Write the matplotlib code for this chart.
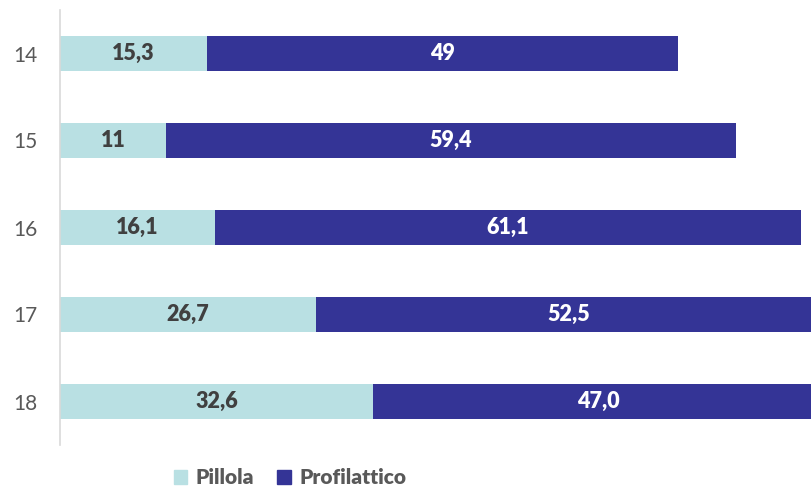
import numpy as np
import matplotlib.pyplot as plt
from matplotlib.patches import Patch

ages = ['14', '15', '16', '17', '18']
pillola = [15.3, 11, 16.1, 26.7, 32.6]
profilattico = [49, 59.4, 61.1, 52.5, 47.0]
pillola_txt = ['15,3', '11', '16,1', '26,7', '32,6']
profil_txt = ['49', '59,4', '61,1', '52,5', '47,0']

c_light = '#b9e0e3'
c_dark = '#343496'

plt.rcParams['font.family'] = ['Lato', 'DejaVu Sans']

fig = plt.figure(figsize=(8.11, 4.87), dpi=100)
ax = fig.add_axes([60 / 811, 1 - 445 / 487, 1 - 60 / 811, 435 / 487])

y = np.arange(len(ages))
h = 0.40
ax.barh(y, pillola, height=h, color=c_light, edgecolor='none')
ax.barh(y, profilattico, left=pillola, height=h, color=c_dark, edgecolor='none')

for i in range(len(ages)):
    ax.text(pillola[i] / 2, y[i], pillola_txt[i], ha='center', va='center',
            fontsize=15.5, fontweight='heavy', color='#404040')
    ax.text(pillola[i] + profilattico[i] / 2, y[i], profil_txt[i], ha='center',
            va='center', fontsize=15.5, fontweight='heavy', color='white')

ax.set_xlim(0, 78.2)
ax.set_ylim(4.5, -0.5)
ax.set_yticks(y)
ax.set_yticklabels(ages, fontsize=15, color='#595959')
ax.tick_params(axis='y', length=0, pad=16)
ax.set_xticks([])
for s in ['top', 'right', 'bottom']:
    ax.spines[s].set_visible(False)
ax.spines['left'].set_color('#d9d9d9')
ax.spines['left'].set_linewidth(1.2)

handles = [Patch(color=c_light, label='Pillola'), Patch(color=c_dark, label='Profilattico')]
leg = fig.legend(handles=handles, loc='center', bbox_to_anchor=(290 / 811, 1 - 478 / 487),
                 ncol=2, frameon=False, handlelength=0.65, handleheight=0.65,
                 handletextpad=0.4, columnspacing=1.1,
                 prop={'size': 15, 'weight': 'heavy'})
for t in leg.get_texts():
    t.set_color('#595959')

fig.savefig('out.png', dpi=100)
